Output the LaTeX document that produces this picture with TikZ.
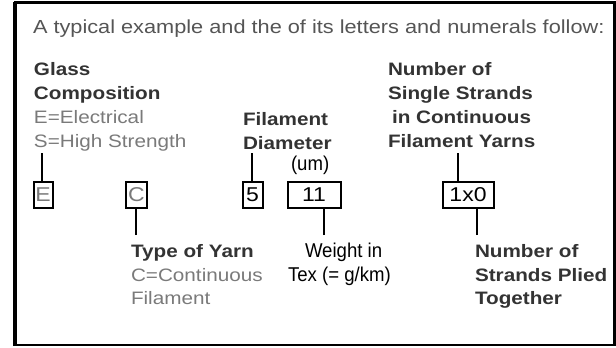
\documentclass[tikz,border=0pt]{standalone}
\usepackage{fontspec}
\setmainfont{Liberation Sans}[FakeStretch=1.15]
\newfontfamily\plainfont{Liberation Sans}[FakeStretch=0.93]
\definecolor{titlegray}{HTML}{555555}
\definecolor{boldgray}{HTML}{333333}
\definecolor{lightgray}{HTML}{7A7A7A}
\begin{document}
\begin{tikzpicture}[x=1pt,y=-1pt,
  txt/.style={anchor=base west,inner sep=0pt,outer sep=0pt},
  bold/.style={txt,text=boldgray,font=\fontsize{18}{18}\selectfont\bfseries},
  light/.style={txt,text=lightgray,font=\fontsize{18}{18}\selectfont},
  dark/.style={txt,text=black,font=\plainfont\fontsize{20}{20}\selectfont},
  codebox/.style={draw=black,line width=2pt,inner sep=0pt,minimum height=26pt,font=\fontsize{20}{20}\selectfont},
  conn/.style={draw=black,line width=2pt}]
\useasboundingbox (0,0) rectangle (616,348);
\fill[white] (0,0) rectangle (616,348);
\draw[line width=2.5pt] (15,2.5) rectangle (614.5,345);
\draw[line width=4pt] (15,1.5) -- (15,346);
% title
\node[txt,text=titlegray,font=\fontsize{18.9}{18.9}\selectfont] (title) at (33,33) {A typical example and the of its letters and numerals follow:};
% glass composition
\node[bold] (g1) at (34,75) {Glass};
\node[bold] (g2) at (34,99) {Composition};
\node[light] (g3) at (34,123) {E=Electrical};
\node[light] (g4) at (34,147) {S=High Strength};
% filament diameter
\node[bold] (f1) at (243,125) {Filament};
\node[bold] (f2) at (243,149) {Diameter};
\node[dark] (f3) at (291,170) {(um)};
% number of single strands
\node[bold] (n1) at (388,75) {Number of};
\node[bold] (n2) at (388,99) {Single Strands};
\node[bold] (n3) at (392,123) {in Continuous};
\node[bold] (n4) at (388,147) {Filament Yarns};
% boxes
\node[codebox,text=lightgray,minimum width=19pt] (bE) at (43,195) {E};
\node[codebox,text=lightgray,minimum width=21pt] (bC) at (136.5,195) {C};
\node[codebox,text=black,minimum width=20pt] (b5) at (252.5,195) {5};
\node[codebox,text=black,minimum width=53pt] (b11) at (314,195) {11};
\node[codebox,text=black,minimum width=51pt] (b1x0) at (468,195) {1x0};
% bottom labels
\node[bold] (t1) at (131,257) {Type of Yarn};
\node[light] (t2) at (131,281) {C=Continuous};
\node[light] (t3) at (131,304) {Filament};
\node[dark] (w1) at (305,257) {Weight in};
\node[dark] (w2) at (288,281) {Tex (= g/km)};
\node[bold] (p1) at (475,257) {Number of};
\node[bold] (p2) at (475,281) {Strands Plied};
\node[bold] (p3) at (475,304) {Together};
% connectors
\coordinate (cE) at (42,153);
\coordinate (c5) at (252,153);
\coordinate (c1x0a) at (458,153);
\coordinate (cC) at (136,235);
\coordinate (c11) at (324,235);
\coordinate (c1x0b) at (477,235);
\draw[conn] (cE) -- (cE |- bE.north);
\draw[conn] (c5) -- (c5 |- b5.north);
\draw[conn] (c1x0a) -- (c1x0a |- b1x0.north);
\draw[conn] (cC) -- (cC |- bC.south);
\draw[conn] (c11) -- (c11 |- b11.south);
\draw[conn] (c1x0b) -- (c1x0b |- b1x0.south);
\end{tikzpicture}
\end{document}
